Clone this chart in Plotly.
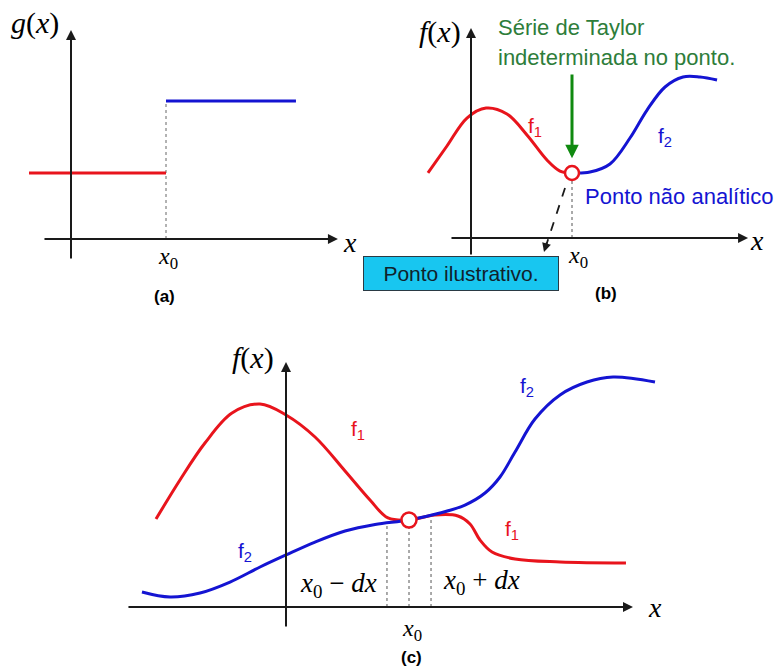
import plotly.graph_objects as go

W, H = 781, 669

# ---------------- data (units: x0 = 1 on each x axis) ----------------
# (a) step function g(x)
g_left_x = [-0.442, 1.0]
g_left_y = [0.695, 0.695]
g_right_x = [1.0, 2.368]
g_right_y = [1.453, 1.453]

# (b) f(x) made of two pieces meeting at x0
b_f1_x = [-0.426, -0.238, -0.040, 0.149, 0.356, 0.554, 0.752, 0.881, 1.0]
b_f1_y = [0.644, 0.911, 1.188, 1.287, 1.228, 1.020, 0.772, 0.663, 0.644]
b_f2_x = [1.0, 1.178, 1.376, 1.574, 1.743, 1.921, 2.099, 2.267, 2.436]
b_f2_y = [0.644, 0.653, 0.733, 0.990, 1.267, 1.495, 1.594, 1.594, 1.564]

# (c) two smooth functions crossing at x0
c_f1_x = [-1.057, -0.862, -0.659, -0.439, -0.211, 0.0, 0.236, 0.480, 0.683, 0.829,
          1.0, 1.211, 1.398, 1.496, 1.577, 1.675, 1.862, 2.228, 2.764]
c_f1_y = [0.715, 1.033, 1.333, 1.577, 1.650, 1.561, 1.382, 1.106, 0.870, 0.724,
          0.707, 0.748, 0.740, 0.675, 0.545, 0.447, 0.390, 0.366, 0.358]
c_f2_x = [-1.171, -0.943, -0.699, -0.455, -0.211, 0.0, 0.236, 0.480, 0.724, 1.0,
          1.252, 1.455, 1.618, 1.740, 1.862, 2.024, 2.228, 2.447, 2.659, 3.0]
c_f2_y = [0.122, 0.081, 0.114, 0.203, 0.325, 0.423, 0.528, 0.618, 0.671, 0.707,
          0.764, 0.829, 0.927, 1.057, 1.260, 1.528, 1.724, 1.829, 1.870, 1.829]
c_dx_marks = [0.821, 1.0, 1.179]
c_dx_tops = [0.691, 0.707, 0.748]

RED = "#e8141c"
BLUE = "#1414d2"
GREEN = "#2e7d3a"
AX = "#1a1a1a"
SERIF = "Liberation Serif"
SANS = "Liberation Sans"

fig = go.Figure()


def panel(n, left, right, top, bottom, ox, oy, s):
    """Place axes pair n on the page with an equal x/y scale of s px per unit."""
    xa = dict(domain=[left / W, right / W], range=[(left - ox) / s, (right - ox) / s],
              visible=False, fixedrange=True)
    ya = dict(domain=[1 - bottom / H, 1 - top / H], range=[(oy - bottom) / s, (oy - top) / s],
              visible=False, fixedrange=True)
    sfx = "" if n == 1 else str(n)
    fig.update_layout(**{"xaxis" + sfx: dict(xa, anchor="y" + sfx),
                         "yaxis" + sfx: dict(ya, anchor="x" + sfx)})
    return "x" + sfx, "y" + sfx


pa = panel(1, 0, 370, 0, 320, 71, 239, 95)
pb = panel(2, 350, 781, 0, 320, 471, 238, 101)
pc = panel(3, 80, 700, 330, 669, 286, 607, 123)


def line(p, xs, ys, color, width=3, dash=None, spline=False):
    fig.add_trace(go.Scatter(x=xs, y=ys, xaxis=p[0], yaxis=p[1], mode="lines",
                             line=dict(color=color, width=width, dash=dash,
                                       shape="spline" if spline else "linear",
                                       smoothing=1.0 if spline else None),
                             hoverinfo="skip", showlegend=False))


def arrow(p, x0, y0, x1, y1, color=AX, width=2, head=2, size=1.0):
    fig.add_annotation(x=x1, y=y1, ax=x0, ay=y0, xref=p[0], yref=p[1],
                       axref=p[0], ayref=p[1], showarrow=True, arrowhead=head,
                       arrowsize=size, arrowwidth=width, arrowcolor=color, text="")


def label(p, x, y, text, size, color="black", family=SANS, xanchor="center"):
    fig.add_annotation(x=x, y=y, xref=p[0], yref=p[1], text=text, showarrow=False,
                       xanchor=xanchor, yanchor="middle",
                       font=dict(size=size, color=color, family=family))


def open_point(p, x, y, size):
    fig.add_trace(go.Scatter(x=[x], y=[y], xaxis=p[0], yaxis=p[1], mode="markers",
                             marker=dict(size=size, color="white",
                                         line=dict(color=RED, width=2.5)),
                             hoverinfo="skip", showlegend=False))


# ---------------- (a) ----------------
line(pa, [1.0, 1.0], [0, 1.453], "#666666", width=1, dash="dot")
arrow(pa, -0.295, 0, 2.81, 0)
arrow(pa, 0, -0.221, 0, 2.20)
line(pa, g_left_x, g_left_y, RED)
line(pa, g_right_x, g_right_y, BLUE)
label(pa, -0.379, 2.274, "<i>g</i>(<i>x</i>)", 30, family=SERIF)
label(pa, 2.937, -0.04, "<i>x</i>", 28, family=SERIF)
label(pa, 1.02, -0.2, "<i>x</i><sub>0</sub>", 24, family=SERIF)
label(pa, 0.989, -0.60, "<b>(a)</b>", 17)

# ---------------- (b) ----------------
line(pb, [1.0, 1.0], [0, 0.58], "#555555", width=1, dash="dot")
arrow(pb, -0.208, 0, 2.743, 0)
arrow(pb, 0, -0.178, 0, 2.079)
line(pb, b_f1_x, b_f1_y, RED, spline=True)
line(pb, b_f2_x, b_f2_y, BLUE, spline=True)
open_point(pb, 1.0, 0.644, 14)
arrow(pb, 1.0, 1.634, 1.0, 0.79, color="#108a10", width=3, head=2, size=0.9)
line(pb, [0.931, 0.745], [0.495, -0.07], AX, width=1.8, dash="dash")
arrow(pb, 0.755, -0.03, 0.723, -0.139, width=1.8, head=2)
label(pb, -0.307, 2.04, "<i>f</i>(<i>x</i>)", 30, family=SERIF)
label(pb, 2.832, -0.02, "<i>x</i>", 28, family=SERIF)
label(pb, 1.059, -0.19, "<i>x</i><sub>0</sub>", 24, family=SERIF)
label(pb, 0.634, 1.099, "f<sub>1</sub>", 21, color=RED)
label(pb, 1.921, 1.0, "f<sub>2</sub>", 21, color=BLUE)
label(pb, 0.248, 2.089, "Série de Taylor", 22, color=GREEN, xanchor="left")
label(pb, 0.248, 1.792, "indeterminada no ponto.", 22, color=GREEN, xanchor="left")
label(pb, 1.109, 0.406, "Ponto não analítico", 22, color=BLUE, xanchor="left")
fig.add_annotation(x=-0.099, y=-0.347, xref=pb[0], yref=pb[1], showarrow=False,
                   text="Ponto ilustrativo.", width=192, height=31,
                   bgcolor="#18c6f0", bordercolor="#2a3a44", borderwidth=1, borderpad=1,
                   font=dict(size=21, color="#10222c", family=SANS))
label(pb, 1.337, -0.554, "<b>(b)</b>", 17)

# ---------------- (c) ----------------
for xm, yt in zip(c_dx_marks, c_dx_tops):
    line(pc, [xm, xm], [0, yt], "#555555", width=1, dash="dot")
arrow(pc, -1.293, 0, 2.821, 0)
arrow(pc, 0, -0.171, 0, 1.992)
line(pc, c_f1_x, c_f1_y, RED, spline=True)
line(pc, c_f2_x, c_f2_y, BLUE, spline=True)
open_point(pc, 1.0, 0.707, 15)
label(pc, -0.268, 2.024, "<i>f</i>(<i>x</i>)", 30, family=SERIF)
label(pc, 3.0, 0.0, "<i>x</i>", 28, family=SERIF)
label(pc, 1.024, -0.187, "<i>x</i><sub>0</sub>", 24, family=SERIF)
label(pc, 0.585, 1.439, "f<sub>1</sub>", 21, color=RED)
label(pc, 1.837, 0.626, "f<sub>1</sub>", 21, color=RED)
label(pc, -0.333, 0.447, "f<sub>2</sub>", 21, color=BLUE)
label(pc, 1.959, 1.789, "f<sub>2</sub>", 21, color=BLUE)
label(pc, 0.423, 0.179, "<i>x</i><sub>0</sub> − <i>dx</i>", 27, family=SERIF)
label(pc, 1.593, 0.203, "<i>x</i><sub>0</sub> + <i>dx</i>", 27, family=SERIF)
label(pc, 1.024, -0.407, "<b>(c)</b>", 17)

fig.update_layout(width=W, height=H, margin=dict(l=0, r=0, t=0, b=0),
                  paper_bgcolor="white", plot_bgcolor="rgba(0,0,0,0)",
                  showlegend=False)

fig.write_html("out.html")
